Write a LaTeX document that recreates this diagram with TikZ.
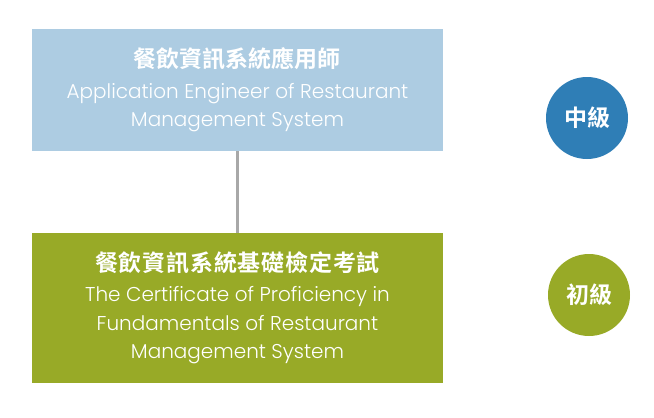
\documentclass[tikz,border=0pt]{standalone}
\usepackage{fontspec}
\setmainfont{Poppins Light}
\newfontfamily\en{Poppins Light}
\newfontfamily\cjk{Noto Sans CJK TC Bold}
\definecolor{topblue}{HTML}{ADCCE2}
\definecolor{olive}{HTML}{98AA27}
\definecolor{circblue}{HTML}{2F7EB6}
\definecolor{linegray}{HTML}{A8A8A8}
\tikzset{
  box/.style={rectangle, minimum width=411pt, minimum height=122pt, inner sep=0pt, text=white, align=center, font=\en\fontsize{20}{28.5}\selectfont},
  level/.style={circle, minimum size=82pt, inner sep=0pt, text=white, font=\cjk\fontsize{23}{24}\selectfont},
  link/.style={draw=linegray, line width=3pt}
}
\begin{document}
\begin{tikzpicture}[x=1pt,y=-1pt]
\useasboundingbox (0,0) rectangle (654,418);
\node[box, fill=topblue] (top) at (237.5,90) {{\cjk\fontsize{23}{24}\selectfont 餐飲資訊系統應用師}\\[2pt]Application Engineer of Restaurant\\Management System};
\node[box, fill=olive, minimum height=150pt] (bot) at (237.5,308) {{\cjk\fontsize{23}{24}\selectfont\addfontfeature{LetterSpace=3.5} 餐飲資訊系統基礎檢定考試}\\[1.5pt]The Certificate of Proficiency in\\Fundamentals of Restaurant\\Management System};
\draw[link] (top.south) -- (bot.north);
\node[level, fill=circblue] (mid) at (587,118) {中級};
\node[level, fill=olive] (basic) at (589,295) {初級};
\end{tikzpicture}
\end{document}
